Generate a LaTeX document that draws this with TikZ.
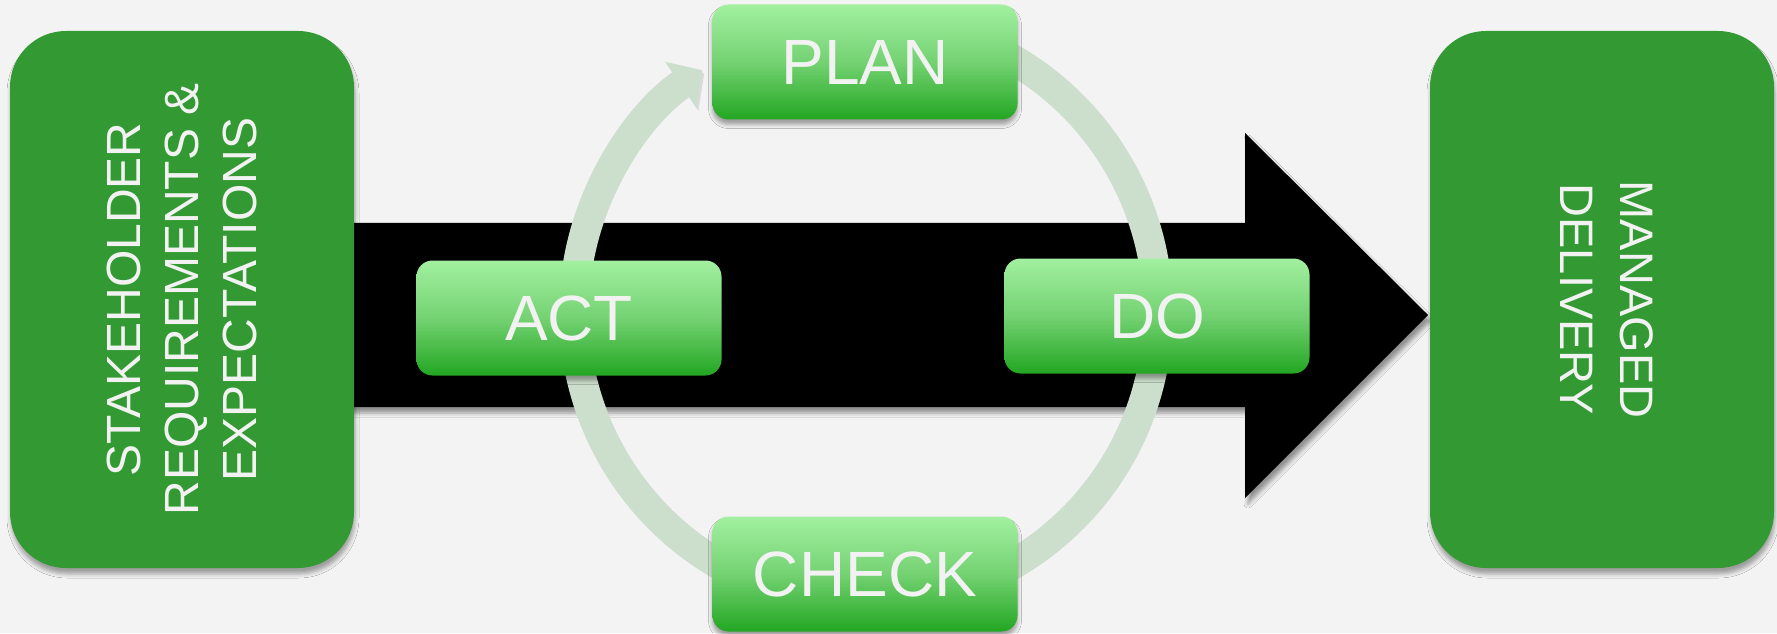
\documentclass[tikz,border=0pt]{standalone}
\usepackage{fontspec}
\setmainfont{Liberation Sans}
\usetikzlibrary{arrows.meta,shadows.blur}
\definecolor{PageBg}{HTML}{F3F3F3}
\definecolor{BoxGreen}{HTML}{339933}
\definecolor{StageTop}{HTML}{A2F0A0}
\definecolor{StageMid}{HTML}{74D272}
\definecolor{StageBot}{HTML}{22A622}
\definecolor{RingGreen}{HTML}{CCDECC}
\definecolor{LabelInk}{HTML}{F2F2F2}

\begin{document}
\begin{tikzpicture}[x=0.5pt, y=0.5pt,
  sidebox/.style={rounded corners=28pt, fill=BoxGreen, minimum width=172pt,
              minimum height=268.5pt, inner sep=0pt, text=LabelInk,
              blur shadow={shadow xshift=0.5pt, shadow yshift=-3pt,
                           shadow blur radius=2pt, shadow opacity=35}},
  stage/.style={rounded corners=8pt, top color=StageTop, bottom color=StageBot,
              middle color=StageMid, minimum width=152.5pt, minimum height=57.5pt,
              inner sep=0pt, text=LabelInk, font=\fontsize{32}{36}\selectfont,
              blur shadow={shadow xshift=0pt, shadow yshift=-2.5pt,
                           shadow blur radius=2pt, shadow opacity=35}},
  ring/.style={draw=RingGreen, line width=15pt,
              -{Triangle[length=13pt, width=27pt]},
              preaction={draw=black, draw opacity=0.10, fill opacity=0.10,
                         transform canvas={xshift=1pt, yshift=-1.5pt}}}]
  % page
  \fill[PageBg] (0,0) rectangle (1777,633);
  \useasboundingbox (0,0) rectangle (1777,633);
  % big black arrow
  \fill[black, blur shadow={shadow xshift=1.5pt, shadow yshift=-3pt,
                           shadow blur radius=2pt, shadow opacity=40}]
    (300,226) -- (1245,226) -- (1245,135) -- (1428,318) -- (1245,500)
    -- (1245,410) -- (300,410) -- cycle;
  % input and output
  \node[sidebox, font=\fontsize{24}{29}\selectfont] (stake) at (182,333.5)
    {\hspace*{5pt}\rotatebox{90}{\begin{tabular}{@{}c@{}}
    STAKEHOLDER\\REQUIREMENTS \&\\EXPECTATIONS\end{tabular}}};
  \node[sidebox, font=\fontsize{23.5}{30}\selectfont] (deliv) at (1602,333.5)
    {\rotatebox{-90}{\begin{tabular}{@{}c@{}}
    MANAGED\\DELIVERY\end{tabular}}};
  % cycle ring
  \coordinate (hub) at (866,321);
  \draw[ring] ([shift={(75:146pt)}]hub)
    arc[start angle=75, end angle=-235.9, radius=146pt];
  % the four stages
  \node[stage] (plan) at (865,571) {PLAN};
  \node[stage] (do) at (1157,317) {DO};
  \node[stage] (check) at (865,59) {CHECK};
  \node[stage] (act) at (569,315) {ACT};
\end{tikzpicture}
\end{document}
